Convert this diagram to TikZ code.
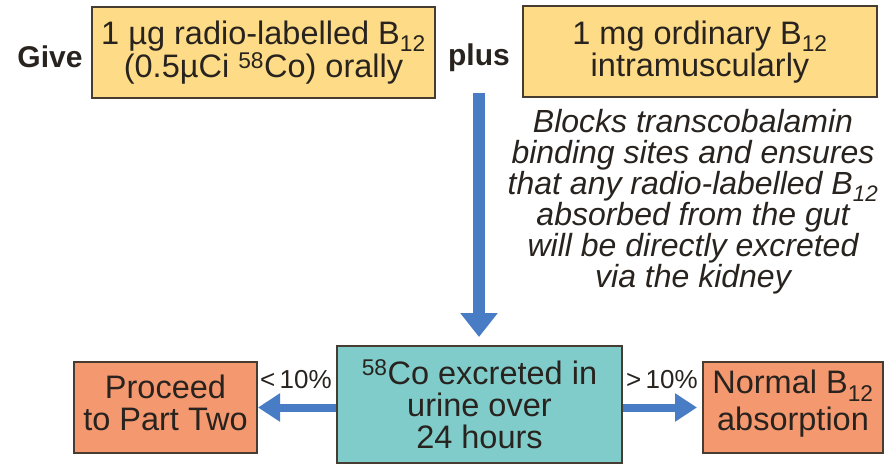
\documentclass[tikz,border=0pt]{standalone}
\usepackage{fontspec}
\setmainfont{Liberation Sans}
\usetikzlibrary{arrows.meta,positioning}
\definecolor{pYellow}{RGB}{253,219,135}
\definecolor{pOrange}{RGB}{244,152,112}
\definecolor{pTeal}{RGB}{128,204,202}
\definecolor{pBlue}{RGB}{72,124,196}
\definecolor{pBorder}{RGB}{70,60,50}
\definecolor{pText}{RGB}{40,35,30}
\tikzset{
    box/.style={rectangle, draw=pBorder, line width=2pt, align=center, inner sep=0pt, text=pText, font=\fontsize{32.5}{32}\selectfont},
    ybox/.style={box, fill=pYellow, minimum height=91pt},
    obox/.style={box, fill=pOrange, minimum height=91pt},
    tbox/.style={box, fill=pTeal},
    word/.style={text=pText, font=\bfseries\fontsize{30}{30}\selectfont},
    note/.style={text=pText, align=center, font=\itshape\fontsize{32}{31}\selectfont},
    pct/.style={text=pText, font=\fontsize{26}{26}\selectfont},
    fat/.style={pBlue, line width=12pt, -{Triangle[length=24pt, width=36pt]}},
    thin/.style={pBlue, line width=8pt, -{Triangle[length=22pt, width=27pt]}}
}

\begin{document}
\begin{tikzpicture}[x=1pt,y=-1pt]
\useasboundingbox (0,0) rectangle (889,465);
\node[word] (give) at (50,57) {Give};
\node[ybox, minimum width=343pt] (oral) at (263.5,52.5) {1 µg radio-labelled B\textsubscript{12}\\(0.5µCi \textsuperscript{58}Co) orally};
\node[word] (plus) at (479,58) {plus};
\node[ybox, minimum width=354pt] (im) at (700,52) {1 mg ordinary B\textsubscript{12}\\intramuscularly};
\node[note] (why) at (693,202) {Blocks transcobalamin\\binding sites and ensures\\that any radio-labelled B\textsubscript{12}\\absorbed from the gut\\will be directly excreted\\via the kidney};
\node[tbox, minimum width=285pt, minimum height=117pt] (urine) at (479.5,404.5) {\textsuperscript{58}Co excreted in\\urine over\\24 hours};
\node[obox, minimum width=183pt, text depth=10pt] (part2) at (165.5,407.5) {Proceed\\to Part Two};
\node[obox, minimum width=180pt, text depth=14pt] (normal) at (793,407.5) {Normal B\textsubscript{12}\\[5pt]absorption};
\coordinate (start) at (479,93);
\draw[fat, shorten >=8pt] (start) -- (start |- urine.north);
\draw[thin] (urine.west |- part2.east) -- (part2.east);
\draw[thin, shorten >=5pt] (urine.east |- normal.west) -- (normal.west);
\node[pct] (less) at (296,380) {<\,10\%};
\node[pct] (more) at (662,380) {>\,10\%};
\end{tikzpicture}
\end{document}
